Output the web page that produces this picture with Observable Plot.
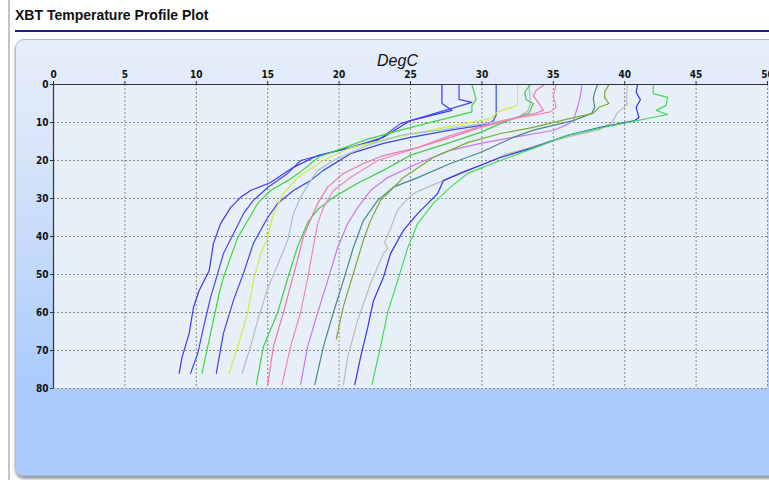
<!DOCTYPE html>
<html>
<head>
<meta charset="utf-8">
<script src="https://cdn.jsdelivr.net/npm/d3@7"></script>
<script src="https://cdn.jsdelivr.net/npm/@observablehq/plot@0.6"></script>
<style>
  html, body { margin: 0; padding: 0; background: #fff; }
  body { width: 769px; height: 480px; overflow: hidden; position: relative; }
  #bar { position: absolute; left: 8px; top: 0; width: 2px; height: 480px; background: #c4c4c4; }
  #title { position: absolute; left: 15px; top: 7px; font: bold 14px "Liberation Sans", Arial, sans-serif; line-height: 16px; color: #111; }
  #rule { position: absolute; left: 15px; top: 30px; width: 760px; height: 2px; background: #1e1e8a; }
  #panel { position: absolute; left: 15px; top: 39px; width: 780px; height: 435px; border: 1px solid #9fbdef; border-radius: 9px;
           background: linear-gradient(#e6eef9 0%, #d8e5f9 25%, #aacbfc 80%, #aacbfc 100%); box-shadow: 0 3px 3px #9a9a9a; }
  #chart { position: absolute; left: 15px; top: 40px; width: 800px; }
  #chart svg { max-width: none !important; }
</style>
</head>
<body>
<div id="bar"></div>
<div id="title">XBT Temperature Profile Plot</div>
<div id="rule"></div>
<div id="panel"></div>
<div id="chart"></div>
<script>
// Tick values
const xTicks = [0, 5, 10, 15, 20, 25, 30, 35, 40, 45, 50];
const yTicks = [0, 10, 20, 30, 40, 50, 60, 70, 80];

// Profiles: [depth (m), temperature (DegC, as plotted)]
const p01 = [[0,27.2],[5,27.2],[6.8,27.9],[9.5,25.0],[13.9,23.1],[16.6,20.8],[18.7,18.5],[21.8,16.8],[25.8,15.2],[27.9,13.8],[29.7,13.1],[32.4,12.4],[36.6,11.7],[41.8,11.2],[49,10.9],[54.2,10.2],[58.7,9.8],[65.5,9.5],[71.8,9.0],[76,8.8]];
const p02 = [[0,28.4],[3.9,28.4],[4.7,29.3],[10.3,24.3],[14.7,22.7],[17.4,19.9],[20,17.3],[23.4,16.4],[27.1,15.0],[30.5,14.0],[34,13.3],[39.3,12.6],[44.5,11.9],[49.7,11.5],[56,11.0],[64,10.5],[70.8,10.1],[76,9.6]];
const p03 = [[0,29.3],[3.9,29.6],[5.5,29.3],[7.2,29.3],[12,24.3],[14.5,21.9],[19,18.6],[23,17.3],[25.3,16.4],[27.9,15.2],[31.3,14.3],[35.8,13.6],[40.3,12.9],[45.5,12.4],[50.8,11.9],[55,11.6],[62,11.2],[69,10.8],[76,10.4]];
const p04 = [[0,31.0],[8,31.0],[9.5,30.8],[10.5,30.4],[12,27.8],[13.9,25.0],[15.5,23.1],[18.2,20.8],[22.6,18.9],[25.3,18.0],[27.9,16.8],[31.3,15.7],[35,15.0],[41.8,14.0],[49.7,13.3],[56.8,12.6],[65.5,11.9],[76,11.4]];
const p05 = [[0,32.5],[5.5,32.5],[7.2,31.1],[9,30.6],[11,27.8],[13.8,24.0],[16.6,20.8],[20,18.9],[24.5,17.1],[28.7,16.1],[34,15.4],[40.3,15.0],[44.7,14.5],[51.6,14.0],[60,13.6],[69,12.9],[76,12.3]];
const p06 = [[0,33.3],[5,33.4],[7,33.2],[8.5,32.6],[9.5,31.5],[11.6,27.8],[13.4,24.3],[16,22.0],[20,19.6],[22.6,18.5],[25.3,18.0],[29.7,17.3],[34,16.8],[41,16.4],[47.4,15.7],[53.7,15.0],[62,14.3],[69,13.8],[76,13.2]];
const p07 = [[0,33.4],[2,33.0],[4,33.1],[5,33.6],[7.5,33.3],[10.3,31.3],[12.6,29.9],[15.5,27.6],[18.6,25.0],[22.6,23.1],[26,21.3],[29.7,19.6],[32.9,18.5],[36.3,17.8],[42.6,17.1],[51,16.4],[60,15.7],[69,14.7],[79,14.2]];
const p08 = [[0,34.4],[1.5,33.8],[3,33.6],[5,34.0],[6.8,34.3],[7.5,33.8],[8.5,32.6],[10,31.3],[11.3,29.9],[13.9,27.8],[16.6,25.5],[18.7,23.1],[20.8,21.7],[23.4,20.3],[27,19.2],[31.3,18.5],[35.5,18.0],[40,17.5],[46,17.1],[53,16.6],[60,16.1],[69,15.4],[79,15.0]];
const p09 = [[0,35.2],[3,35.0],[6,35.2],[7.2,34.8],[7.8,34.0],[9.5,31.5],[11.5,29.5],[13.4,27.8],[16.6,25.5],[20,22.7],[24.5,20.8],[27.9,19.6],[32.4,18.9],[36.6,18.5],[42.6,18.2],[51,17.8],[60,17.3],[69,16.6],[79,16.0]];
const p10 = [[0,37.0],[3,36.9],[6,36.7],[9.5,36.4],[10.5,36.0],[12.1,35.0],[13.9,32.2],[15.5,29.9],[17.4,27.7],[20.8,25.5],[24.5,23.4],[27.9,22.2],[32.4,21.3],[36.6,20.6],[42.9,19.9],[51.6,19.2],[60,18.5],[69,17.8],[79,17.3]];
const p11 = [[0,38.1],[2,37.9],[3.7,37.8],[6,37.9],[7.6,37.7],[9.5,36.4],[12,33.6],[13.9,32.2],[17.9,29.9],[20.8,27.8],[24.5,25.5],[27,23.8],[30.5,22.7],[35.8,21.7],[42.9,21.0],[51.6,20.3],[60,19.6],[69,18.9],[79,18.3]];
const p12 = [[0,38.9],[2,38.6],[3.5,38.6],[5,38.9],[6,38.2],[7.6,37.8],[8.7,36.4],[11.3,33.6],[12.9,31.3],[15.3,29.0],[19.2,26.6],[24.5,24.5],[27.9,23.6],[30.5,22.9],[35.8,22.2],[41,21.7],[49.7,21.0],[58.4,20.3],[67,19.8]];
const p13 = [[0,40.2],[4,40.1],[5.2,40.2],[7.4,39.5],[10,39.1],[11.8,38.3],[14.7,35.0],[16.8,33.2],[18.2,31.8],[21.3,29.9],[23.2,28.5],[25.3,27.3],[27,26.2],[28.7,25.2],[31.3,24.5],[33,24.1],[37.9,23.6],[41.5,23.2],[43.2,23.4],[44.5,23.1],[52.4,22.2],[62,21.3],[71.8,20.6],[79,20.3]];
const p14 = [[0,40.9],[2,40.8],[4,41.1],[6,40.8],[8.7,41.0],[9.5,40.7],[11.3,38.3],[13.4,36.0],[16.6,33.6],[19.2,31.3],[22.6,29.0],[25.3,27.3],[28.7,26.9],[34,25.5],[38.4,24.5],[44.5,23.6],[50.8,23.1],[57,22.4],[64,22.0],[71.8,21.5],[79,21.1]];
const p15 = [[0,42.0],[2.4,42.0],[3.4,43.0],[5.5,42.9],[6.8,42.2],[7.9,43.0],[9.7,40.6],[11.3,38.5],[13.4,36.0],[16.8,33.6],[20,31.3],[23.4,29.0],[27,27.8],[31.3,26.6],[36.6,25.5],[43,24.8],[51.6,24.1],[60,23.4],[69,22.9],[79,22.3]];

const profiles = [p01, p02, p03, p04, p05, p06, p07, p08, p09, p10, p11, p12, p13, p14, p15];
const profileColors = ["#3a3aee", "#4646ee", "#3cd83c", "#3a48dd", "#ccee44", "#a2c2cc", "#44cc44", "#ee77aa", "#ee88bb", "#cc77ee", "#468a88", "#78aa33", "#bbbbbb", "#3434ee", "#44dd55"];

const rows = profiles.flatMap((p, i) => p.map(([depth, temp]) => ({id: i, depth, temp, color: profileColors[i]})));

const font = '"Liberation Sans Narrow", "DejaVu Sans Condensed", "Liberation Sans", sans-serif';

const chart = Plot.plot({
  width: 762,
  height: 360,
  marginLeft: 38,
  marginRight: 10,
  marginTop: 44,
  marginBottom: 12,
  style: {background: "transparent", fontFamily: font, fontSize: "10px", color: "#111", overflow: "visible", maxWidth: "none"},
  x: {domain: [0, 50]},
  y: {domain: [0, 80], reverse: true},
  marks: [
    Plot.frame({fill: "#e7eff8", stroke: null}),
    Plot.gridX(xTicks, {stroke: "#8a8a8a", strokeOpacity: 1, strokeDasharray: "2,2"}),
    Plot.gridY(yTicks, {stroke: "#8a8a8a", strokeOpacity: 1, strokeDasharray: "2,2"}),
    Plot.line(rows, {x: "temp", y: "depth", z: "id", stroke: "color", strokeWidth: 1.2}),
    Plot.ruleY([0], {stroke: "#333", strokeWidth: 1.2}),
    Plot.ruleX([0], {stroke: "#333", strokeWidth: 1.2}),
    Plot.axisX(xTicks, {anchor: "top", tickSize: 4, tickPadding: 3, fontWeight: "bold", label: null, stroke: "#333"}),
    Plot.axisY(yTicks, {anchor: "left", tickSize: 3, tickPadding: 2, fontWeight: "bold", label: null, stroke: "#333"}),
    Plot.text(["DegC"], {frameAnchor: "top", lineAnchor: "top", dx: -13, dy: -30, fontSize: 16, fontStyle: "italic", fontFamily: '"Liberation Sans", Arial, sans-serif', fill: "#111"})
  ]
});
document.getElementById("chart").appendChild(chart);
</script>
</body>
</html>
